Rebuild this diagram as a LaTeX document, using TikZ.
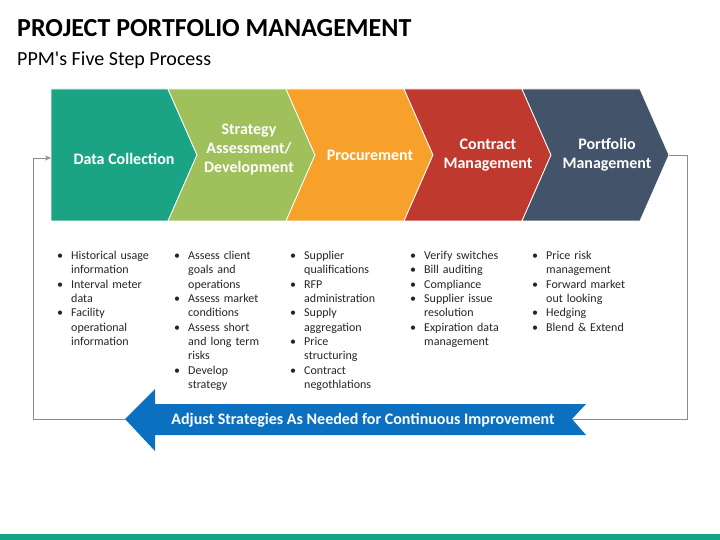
\documentclass[tikz,border=0pt]{standalone}
\usepackage{fontspec}
\setmainfont{Carlito}
\usetikzlibrary{arrows.meta}
\definecolor{cTeal}{HTML}{1BA484}
\definecolor{cGreen}{HTML}{9FC05A}
\definecolor{cOrange}{HTML}{F8A12A}
\definecolor{cRed}{HTML}{C0392E}
\definecolor{cSlate}{HTML}{435369}
\definecolor{cBlue}{HTML}{0B70C0}
\definecolor{cLoop}{HTML}{8C8C8C}
\newcommand\bitem[1]{\hangindent=14pt\hangafter=1\noindent\makebox[14pt][l]{\textbullet}#1\par}
\tikzset{
  chev/.style={draw=white, line width=0.8pt},
  steplabel/.style={text=white, font=\bfseries\fontsize{16}{19}\selectfont, align=center, inner sep=0pt},
  bulletcol/.style={anchor=north west, inner sep=0pt, text width=118pt, align=left, font=\fontsize{12}{14.35}\selectfont, text=black!85},
  loopline/.style={draw=cLoop, line width=0.9pt}
}
\begin{document}
\begin{tikzpicture}[x=1pt,y=-1pt]
\useasboundingbox (0,0) rectangle (720,540);
\fill[white] (0,0) rectangle (720,540);
% title
\node[anchor=base west, inner sep=0pt, font=\bfseries\fontsize{26}{30}\selectfont] (title) at (17,37) {PROJECT PORTFOLIO MANAGEMENT};
\node[anchor=base west, inner sep=0pt, font=\fontsize{20}{24}\selectfont] (subtitle) at (17,66) {PPM\textquotesingle s Five Step Process};
% chevrons
\fill[cTeal, chev] (51,89) -- (168,89) -- (197,155) -- (168,221) -- (51,221) -- cycle;
\fill[cGreen, chev] (168,89) -- (286,89) -- (315,155) -- (286,221) -- (168,221) -- (197,155) -- cycle;
\fill[cOrange, chev] (286,89) -- (404,89) -- (433,155) -- (404,221) -- (286,221) -- (315,155) -- cycle;
\fill[cRed, chev] (404,89) -- (522,89) -- (551,155) -- (522,221) -- (404,221) -- (433,155) -- cycle;
\fill[cSlate, chev] (522,89) -- (640,89) -- (669,155) -- (640,221) -- (522,221) -- (551,155) -- cycle;
\coordinate (firstin) at (51,158);
\coordinate (lasttip) at (669,155);
\node[steplabel] (s1) at (124,159) {Data Collection};
\node[steplabel] (s2) at (249,150) {Strategy\\Assessment/\\Development};
\node[steplabel] (s3) at (370,155) {Procurement};
\node[steplabel] (s4) at (488,155) {Contract\\Management};
\node[steplabel] (s5) at (607,155) {Portfolio\\Management};
% bullet columns
\node[bulletcol] (b1) at (57,251) {\bitem{Historical usage\newline information}\bitem{Interval meter\newline data}\bitem{Facility\newline operational\newline information}};
\node[bulletcol] (b2) at (174,251) {\bitem{Assess client\newline goals and\newline operations}\bitem{Assess market\newline conditions}\bitem{Assess short\newline and long term\newline risks}\bitem{Develop\newline strategy}};
\node[bulletcol] (b3) at (290,251) {\bitem{Supplier\newline qualifications}\bitem{RFP\newline administration}\bitem{Supply\newline aggregation}\bitem{Price\newline structuring}\bitem{Contract\newline negothlations}};
\node[bulletcol] (b4) at (410,251) {\bitem{Verify switches}\bitem{Bill auditing}\bitem{Compliance}\bitem{Supplier issue\newline resolution}\bitem{Expiration data\newline management}};
\node[bulletcol] (b5) at (532,251) {\bitem{Price risk\newline management}\bitem{Forward market\newline out looking}\bitem{Hedging}\bitem{Blend \& Extend}};
% feedback arrow
\fill[cBlue] (125,419) -- (155,389) -- (155,404) -- (586,404) -- (572,419) -- (586,435) -- (155,435) -- (155,451) -- cycle;
\coordinate (arrowtip) at (125,419);
\coordinate (arrownotch) at (572,419);
\node[text=white, font=\bfseries\fontsize{16}{19}\selectfont, inner sep=0pt] (adjust) at (363,420) {Adjust Strategies As Needed for Continuous Improvement};
% loop lines
\draw[loopline] (lasttip) -- (687,155) -- (687,419) -- (arrownotch);
\draw[loopline, -{Stealth[length=6pt,width=5pt]}] (arrowtip) -- (33,419) -- (33,158) -- (firstin);
% bottom bar
\fill[cTeal] (0,534) rectangle (720,540);
\end{tikzpicture}
\end{document}
